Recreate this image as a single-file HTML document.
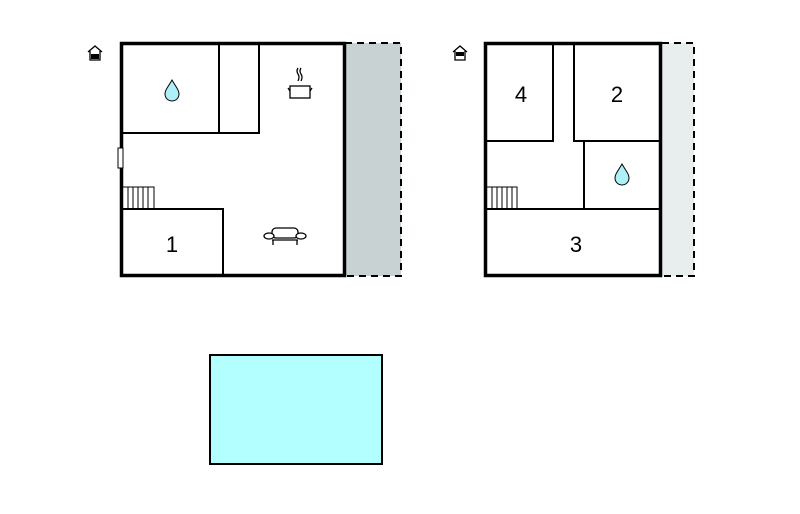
<!DOCTYPE html>
<html><head><style>body{margin:0;background:#fff}</style></head><body>
<svg width="800" height="509" viewBox="0 0 800 509" xmlns="http://www.w3.org/2000/svg" font-family="Liberation Sans, sans-serif">
<!-- left plan -->
<rect x="345" y="43" width="56" height="233" fill="#c9d2d3"/>
<path d="M345 43H401V276H345" fill="none" stroke="#000" stroke-width="2" stroke-dasharray="7,5"/>
<rect x="121.5" y="43.5" width="223" height="232" fill="#fff" stroke="#000" stroke-width="3.5"/>
<g stroke="#000" stroke-width="2" fill="none">
<path d="M122 133H259V44"/>
<path d="M219 44V133"/>
<path d="M122 209H223V275"/>
<path d="M123 187H154V209M128 187V209M133 187V209M138 187V209M143 187V209M148 187V209" stroke-width="1"/>
</g>
<rect x="118" y="148" width="5" height="20" fill="#fff" stroke="#000" stroke-width="1"/>
<path d="M172 80 C168 87 165 90 165 94 A7 7 0 0 0 179 94 C179 90 176 87 172 80Z" fill="#aef0f8" stroke="#000" stroke-width="1"/>
<g stroke="#000" stroke-width="1.3" fill="none">
<rect x="290" y="86" width="20" height="12" fill="#fff"/>
<path d="M288 88l2 3M312 88l-2 3M298 68q-2 3 0 6q2 3 0 7M301 68q-2 3 0 6q2 3 0 7"/>
<rect x="272" y="228" width="26" height="10" rx="4" fill="#fff"/>
<ellipse cx="269" cy="236" rx="5" ry="3" fill="#fff"/><ellipse cx="301" cy="236" rx="5" ry="3" fill="#fff"/>
<path d="M272 240H298M273 240v5M297 240v5"/>
</g>
<text x="172" y="252" font-size="22" text-anchor="middle">1</text>
<path d="M88 52l7-6 7 6M90 51v9h10v-9" fill="none" stroke="#000" stroke-width="1.3"/><rect x="91" y="54" width="8" height="5"/>
<!-- right plan -->
<rect x="662" y="43" width="32" height="233" fill="#e8eeee"/>
<path d="M662 43H694V276H662" fill="none" stroke="#000" stroke-width="2" stroke-dasharray="7,5"/>
<rect x="485.5" y="43.5" width="175" height="232" fill="#fff" stroke="#000" stroke-width="3.5"/>
<g stroke="#000" stroke-width="2" fill="none">
<path d="M553 44V141H486"/>
<path d="M574 44V141H660"/>
<path d="M584 141V209"/>
<path d="M486 209H660"/>
<path d="M487 187H517V209M492 187V209M497 187V209M502 187V209M507 187V209M512 187V209" stroke-width="1"/>
</g>
<path d="M622 164 C618 171 615 174 615 178 A7 7 0 0 0 629 178 C629 174 626 171 622 164Z" fill="#aef0f8" stroke="#000" stroke-width="1"/>
<text x="521" y="102" font-size="22" text-anchor="middle">4</text>
<text x="617" y="102" font-size="22" text-anchor="middle">2</text>
<text x="576" y="252" font-size="22" text-anchor="middle">3</text>
<path d="M453 52l7-6 7 6M455 51v9h10v-9" fill="none" stroke="#000" stroke-width="1.3"/><rect x="456" y="52" width="8" height="4"/>
<!-- pool -->
<rect x="210" y="355" width="172" height="109" fill="#b3ffff" stroke="#000" stroke-width="2"/>
</svg>
</body></html>
